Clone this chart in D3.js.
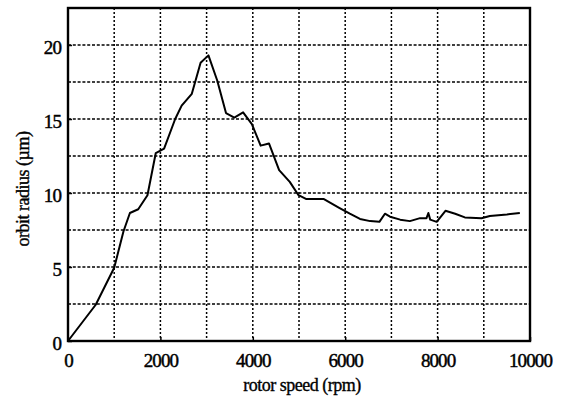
<!DOCTYPE html>
<html>
<head>
<meta charset="utf-8">
<script src="https://cdn.jsdelivr.net/npm/d3@7"></script>
<style>
  body { margin: 0; background: #fff; }
  text { font-family: "Liberation Serif", "Times New Roman", serif; fill: #000; }
</style>
</head>
<body>
<script>
const speed = [0, 600, 1000, 1200, 1340, 1520, 1720, 1900, 2080, 2320, 2460, 2680, 2870, 3040,
  3230, 3420, 3600, 3790, 3980, 4170, 4350, 4570, 4800, 4990, 5150, 5530, 5870, 6100, 6320,
  6540, 6740, 6860, 6970, 7190, 7400, 7620, 7760, 7800, 7840, 7980, 8170, 8380, 8590, 8950,
  9130, 9500, 9780];
const radius = [0, 2.45, 4.95, 7.4, 8.65, 8.9, 9.85, 12.7, 13.0, 15.0, 15.9, 16.7, 18.8, 19.3,
  17.6, 15.4, 15.1, 15.45, 14.65, 13.2, 13.35, 11.55, 10.75, 9.85, 9.6, 9.6, 9.0, 8.6, 8.25,
  8.1, 8.05, 8.6, 8.4, 8.2, 8.1, 8.3, 8.3, 8.65, 8.2, 8.05, 8.8, 8.6, 8.35, 8.3,
  8.45, 8.55, 8.65];

const xTicks = [0, 2000, 4000, 6000, 8000, 10000];
const yTicks = [0, 5, 10, 15, 20];
const xGrid = [1000, 2000, 3000, 4000, 5000, 6000, 7000, 8000, 9000];
const yGrid = [2.5, 5, 7.5, 10, 12.5, 15, 17.5, 20];

const W = 565, H = 406;
const plotL = 68, plotR = 530, plotT = 8, plotB = 341;

const svg = d3.select("body").append("svg")
  .attr("width", W)
  .attr("height", H);

const x = d3.scaleLinear().domain([0, 10000]).range([plotL, plotR]);
const y = d3.scaleLinear().domain([0, 22.5]).range([plotB, plotT]);

// dotted grid
svg.append("g")
  .selectAll("line")
  .data(xGrid)
  .enter()
  .append("line")
  .attr("x1", d => x(d)).attr("x2", d => x(d))
  .attr("y1", plotT).attr("y2", plotB)
  .attr("stroke", "#000")
  .attr("stroke-width", 1.5)
  .attr("stroke-dasharray", "2,2");

svg.append("g")
  .selectAll("line")
  .data(yGrid)
  .enter()
  .append("line")
  .attr("x1", plotL).attr("x2", plotR)
  .attr("y1", d => y(d)).attr("y2", d => y(d))
  .attr("stroke", "#000")
  .attr("stroke-width", 1.5)
  .attr("stroke-dasharray", "3,1.8");

// axes (labels only, ticks inward)
const xAxis = svg.append("g")
  .attr("transform", `translate(0,${plotB})`)
  .call(d3.axisBottom(x).tickValues(xTicks).tickSizeInner(-4).tickSizeOuter(0).tickPadding(13).tickFormat(d3.format("d")));
const yAxis = svg.append("g")
  .attr("transform", `translate(${plotL},0)`)
  .call(d3.axisLeft(y).tickValues(yTicks).tickSizeInner(-4).tickSizeOuter(0).tickPadding(7).tickFormat(d3.format("d")));

[xAxis, yAxis].forEach(a => {
  a.select(".domain").remove();
  a.selectAll(".tick line").attr("stroke", "#000").attr("stroke-width", 1.5);
  a.selectAll(".tick text")
    .style("font-family", "'Liberation Serif', 'Times New Roman', serif")
    .style("font-size", "19px")
    .style("letter-spacing", "-0.9px")
    .attr("fill", "#000")
    .attr("stroke", "#000")
    .attr("stroke-width", 0.45);
});
yAxis.selectAll(".tick text").attr("dy", "0.45em");

// frame
svg.append("rect")
  .attr("x", plotL).attr("y", plotT)
  .attr("width", plotR - plotL).attr("height", plotB - plotT)
  .attr("fill", "none")
  .attr("stroke", "#000")
  .attr("stroke-width", 2.4);

// curve
const line = d3.line()
  .x((d, i) => x(speed[i]))
  .y(d => y(d));

svg.append("path")
  .datum(radius)
  .attr("d", line)
  .attr("fill", "none")
  .attr("stroke", "#000")
  .attr("stroke-width", 2)
  .attr("stroke-linejoin", "round");

// axis titles
svg.append("text")
  .attr("x", 302).attr("y", 391)
  .attr("text-anchor", "middle")
  .attr("stroke", "#000")
  .attr("stroke-width", 0.35)
  .style("font-size", "18px")
  .style("letter-spacing", "-0.5px")
  .text("rotor speed (rpm)");

svg.append("text")
  .attr("transform", "translate(29,189) rotate(-90)")
  .attr("text-anchor", "middle")
  .attr("stroke", "#000")
  .attr("stroke-width", 0.35)
  .style("font-size", "18px")
  .style("letter-spacing", "-0.5px")
  .text("orbit radius (µm)");
</script>
</body>
</html>
